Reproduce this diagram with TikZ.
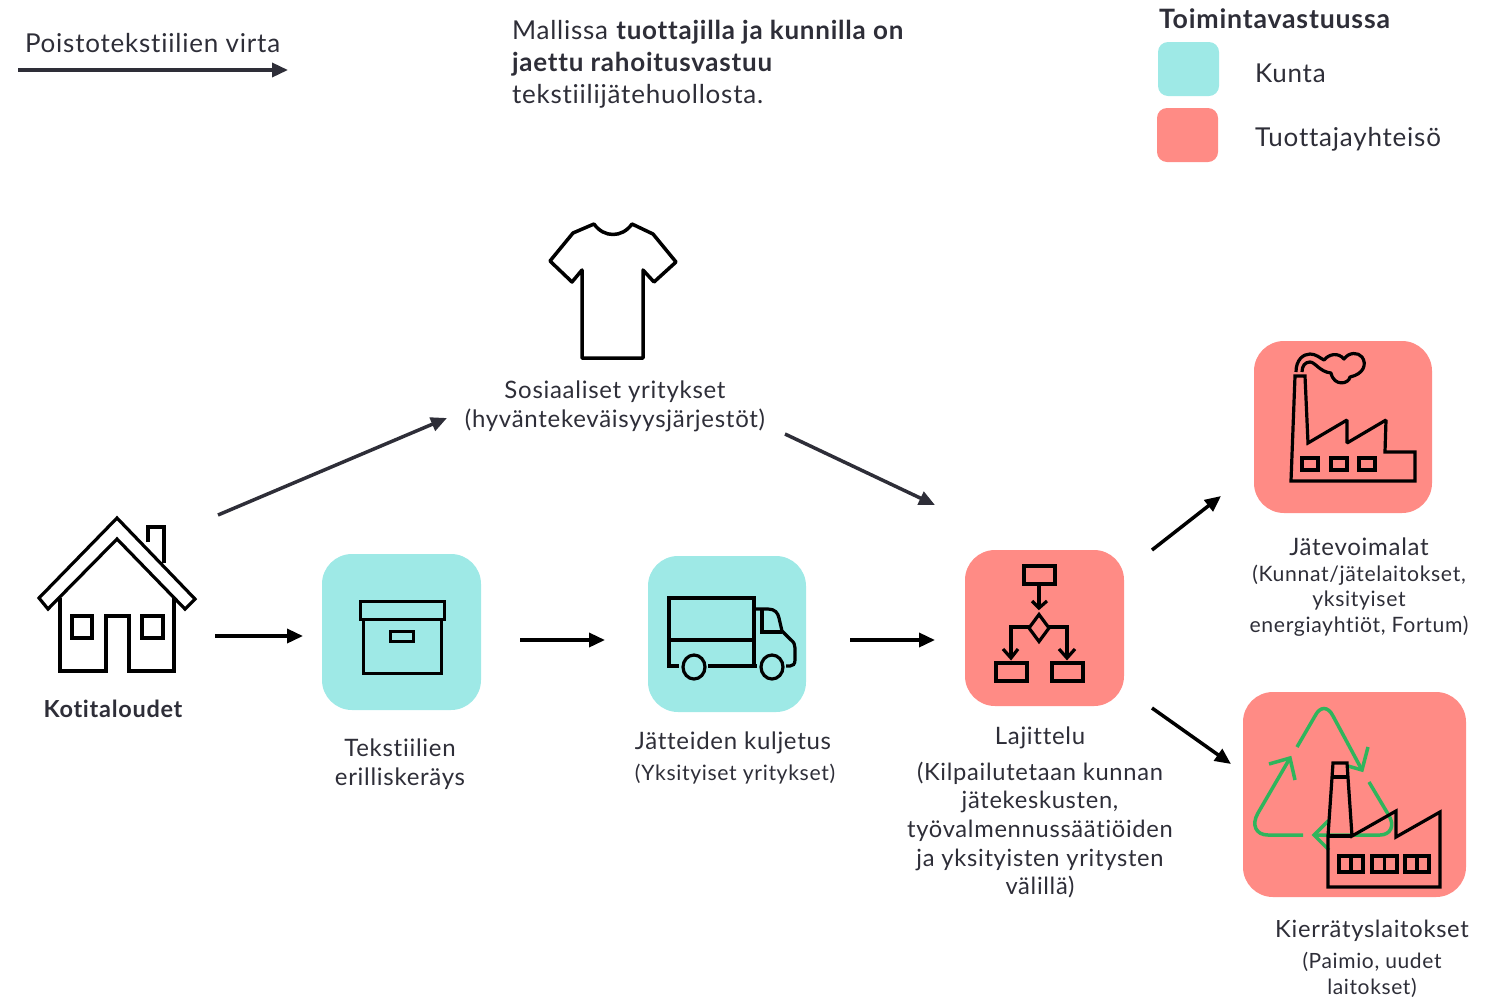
\documentclass[tikz,border=0pt]{standalone}
\usepackage{fontspec}
\setmainfont{Lato}[LetterSpace=3,Ligatures=NoCommon,RawFeature={-liga;-dlig}]
\usetikzlibrary{arrows.meta,calc}
\definecolor{ink}{HTML}{2E2E38}
\definecolor{teal}{HTML}{9EE9E6}
\definecolor{salmon}{HTML}{FF8B85}
\definecolor{rgreen}{HTML}{2FB55C}
\newcommand{\fsz}[2]{\fontsize{#1pt}{#2pt}\selectfont}
\tikzset{
  x=1pt,y=-1pt,
  flow/.style={line width=3.5pt,draw=ink,-{Triangle[length=16pt,width=14pt]}},
  flowk/.style={line width=3.5pt,draw=black,-{Triangle[length=16pt,width=14pt]}},
  tile/.style={rounded corners=30pt,inner sep=0pt,outer sep=0pt,draw=none},
  swatch/.style={rounded corners=10pt,inner sep=0pt,outer sep=0pt,draw=none,minimum width=61pt,minimum height=54pt},
  region/.style={inner sep=0pt,outer sep=0pt,draw=none},
  icon/.style={line width=3.2pt,draw=black,line join=miter,miter limit=2,fill=none},
  thin icon/.style={line width=3pt,draw=black,line join=miter,fill=none},
  round icon/.style={line width=3.5pt,draw=black,line join=round,fill=none},
  green icon/.style={line width=3.5pt,draw=rgreen,line join=miter,fill=none},
  txt/.style={inner sep=0pt,outer sep=0pt,text=ink,align=center},
  txtl/.style={inner sep=0pt,outer sep=0pt,text=ink,align=left,anchor=west},
}
\begin{document}
\begin{tikzpicture}
\useasboundingbox (0,0) rectangle (1492,997);
% tiles
\node[tile,fill=teal,minimum width=159pt,minimum height=156pt] (collect) at (401.5,632) {};
\node[tile,fill=teal,minimum width=158pt,minimum height=156pt] (truck) at (727,634) {};
\node[tile,fill=salmon,minimum width=159pt,minimum height=156pt] (sort) at (1044.5,628) {};
\node[tile,fill=salmon,minimum width=178pt,minimum height=172pt] (power) at (1343,427) {};
\node[tile,fill=salmon,minimum width=223pt,minimum height=205pt] (recycle) at (1354.5,794.5) {};
\node[swatch,fill=teal] (swA) at (1188.5,69) {};
\node[swatch,fill=salmon] (swB) at (1187.5,135) {};
\node[region,minimum width=160pt,minimum height=155pt] (home) at (117,593.5) {};
% header texts
\node[txtl,font=\fsz{26}{32}] (flowtitle) at (25,43) {Poistotekstiilien virta};
\node[txtl,font=\fsz{26}{32}] (model) at (512,64) {Mallissa \textbf{tuottajilla ja kunnilla on}\\\textbf{jaettu rahoitusvastuu}\\tekstiilijätehuollosta.};
\node[txtl,font=\fsz{26.7}{32}\bfseries] (legend) at (1159,19) {Toimintavastuussa};
\node[txtl,font=\fsz{26}{32}] (kunta) at (1255,73) {Kunta};
\node[txtl,font=\fsz{26}{32}] (tuottaja) at (1255,139) {Tuottajayhteisö};
% labels
\node[txt,font=\fsz{24}{29}] (sos) at (615,406.5) {Sosiaaliset yritykset\\(hyväntekeväisyysjärjestöt)};
\node[txt,font=\fsz{23.5}{28}\bfseries] (koti) at (113,709) {Kotitaloudet};
\node[txt,font=\fsz{24}{29}] (collectL) at (400,764) {Tekstiilien\\erilliskeräys};
\node[txt,font=\fsz{24}{29}] (truckL) at (733,743) {Jätteiden kuljetus};
\node[txt,font=\fsz{21.2}{25}] (truckS) at (735,774) {(Yksityiset yritykset)};
\node[txt,font=\fsz{24}{29}] (sortL) at (1040,738) {Lajittelu};
\node[txt,font=\fsz{23.7}{28.7}] (sortS) at (1040,830) {(Kilpailutetaan kunnan\\jätekeskusten,\\työvalmennussäätiöiden\\ja yksityisten yritysten\\välillä)};
\node[txt,font=\fsz{24}{29}] (powerL) at (1359,547) {Jätevoimalat};
\node[txt,font=\fsz{21.2}{25.5}] (powerS) at (1359,600.5) {(Kunnat/jätelaitokset,\\yksityiset\\energiayhtiöt, Fortum)};
\node[txt,font=\fsz{23.7}{29}] (recL) at (1372,931) {Kierrätyslaitokset};
\node[txt,font=\fsz{21}{26}] (recS) at (1372,975) {(Paimio, uudet\\laitokset)};
% connectors
\coordinate (legA) at (18,70);
\coordinate (legB) at (288,70);
\draw[flow] (legA) -- (legB);
\draw[flow] ([shift={(101,-78.5)}]home.center) -- ([shift={(-168,11.5)}]sos.center);
\draw[flow] ([shift={(170,27.5)}]sos.center) -- ([shift={(-109.5,-123)}]sort.center);
\draw[flowk] ([shift={(98,42.5)}]home.center) -- ([shift={(-98.5,4)}]collect.center);
\draw[flowk] ([shift={(118.5,8)}]collect.center) -- ([shift={(-122,6)}]truck.center);
\draw[flowk] ([shift={(123,6)}]truck.center) -- ([shift={(-109.5,12)}]sort.center);
\draw[flowk] ([shift={(107.5,-78)}]sort.center) -- ([shift={(-122,69)}]power.center);
\draw[flowk] ([shift={(107.5,80)}]sort.center) -- ([shift={(-123.5,-30.5)}]recycle.center);
% t-shirt
\draw[round icon] (594,224) -- (573,233) -- (550,261) -- (572,282) -- (582,270) -- (582,358) -- (643,358) -- (643,270) -- (654,282) -- (676,262) -- (653,234) -- (632,224) .. controls (622,238) and (604,238) .. cycle;
% house
\draw[icon] (117,518) -- (39,598) -- (48,609) -- (117,539) -- (185,609) -- (195,599) -- cycle;
\draw[icon] (60,598) -- (60,671) -- (106,671) -- (106,616) -- (129,616) -- (129,671) -- (174,671) -- (174,598);
\draw[icon] (72,616) rectangle (92,638);
\draw[icon] (142,616) rectangle (163,638);
\draw[icon] (148,542) -- (148,527) -- (164,527) -- (164,563);
% storage box
\draw[thin icon] (360,601) rectangle (444,619);
\draw[thin icon] (363,619) -- (363,673) -- (441,673) -- (441,619);
\draw[thin icon] (390,631) rectangle (413,641);
% truck
\draw[icon] (679,666) -- (669,666) -- (669,598) -- (754,598) -- (754,666);
\draw[icon] (708,666) -- (757,666);
\draw[icon] (669,640) -- (754,640);
\draw[icon] (694,667) ellipse [x radius=11,y radius=12];
\draw[icon] (772,667) ellipse [x radius=11,y radius=12];
\draw[icon] (754,609) -- (768,609) .. controls (775,609) and (778,613) .. (779,618) -- (782,631) -- (791,640) .. controls (794,642) and (795,645) .. (795,648) -- (795,660) .. controls (795,664) and (793,666) .. (790,666) -- (786,666);
\draw[icon] (762,609) -- (762,632) -- (782,632);
% flowchart
\draw[icon] (1024,566) rectangle (1055,584);
\draw[icon] (1039,584) -- (1039,608);
\draw[icon] (1032,601) -- (1039,608) -- (1047,601);
\draw[icon] (1039,614.5) -- (1049,628) -- (1039,641.5) -- (1029,628) -- cycle;
\draw[icon] (1029,627) -- (1011,627) -- (1011,658);
\draw[icon] (1003,649) -- (1011,658) -- (1018,649);
\draw[icon] (1049,627) -- (1067,627) -- (1067,658);
\draw[icon] (1059,649) -- (1067,658) -- (1075,649);
\draw[icon] (996,663) rectangle (1027,681);
\draw[icon] (1052,663) rectangle (1083,681);
% power plant
\draw[icon] (1291,481) -- (1295,376) -- (1305,376) -- (1308,443) -- (1347,420) -- (1347,443) -- (1386,420) -- (1385,452) -- (1415,452) -- (1415,481) -- cycle;
\draw[icon] (1302,458) rectangle (1318,470);
\draw[icon] (1331,458) rectangle (1347,470);
\draw[icon] (1359,458) rectangle (1375,470);
\draw[icon,line join=round] (1296,372) .. controls (1296,360) and (1303,354) .. (1310,354) .. controls (1316,354) and (1320,358) .. (1324,360) .. controls (1329,354) and (1338,352) .. (1344,359) .. controls (1349,352) and (1358,352) .. (1362,357) .. controls (1367,364) and (1364,374) .. (1350,377) .. controls (1349,384) and (1334,387) .. (1331,373) .. controls (1320,372) and (1315,362) .. (1310,362) .. controls (1305,362) and (1302,366) .. (1302,372);
% recycling
\draw[green icon] (1297,747) -- (1315,716) .. controls (1320,706) and (1328,706) .. (1333,716) -- (1362,770);
\draw[green icon] (1368,747) -- (1362,770) -- (1348,766);
\draw[green icon] (1369,782) -- (1388,814) .. controls (1396,826) and (1390,835) .. (1380,835) -- (1314,835);
\draw[green icon] (1329,820) -- (1314,835) -- (1329,850);
\draw[green icon] (1303,835) -- (1268,835) .. controls (1256,835) and (1251,825) .. (1258,813) -- (1290,758);
\draw[green icon] (1269,764) -- (1290,758) -- (1295,780);
\draw[icon] (1328,887) -- (1328,836) -- (1333,763) -- (1347,763) -- (1352,836) -- (1396,811) -- (1396,837) -- (1440,812) -- (1440,887) -- cycle;
\draw[icon] (1328,836) -- (1352,836);
\draw[icon] (1332,777) -- (1348,777);
\draw[icon] (1339,856) rectangle (1363,872);
\draw[icon] (1372,856) rectangle (1397,872);
\draw[icon] (1405,856) rectangle (1429,872);
\draw[icon] (1351,856) -- (1351,872);
\draw[icon] (1384.5,856) -- (1384.5,872);
\draw[icon] (1417,856) -- (1417,872);
\end{tikzpicture}
\end{document}
